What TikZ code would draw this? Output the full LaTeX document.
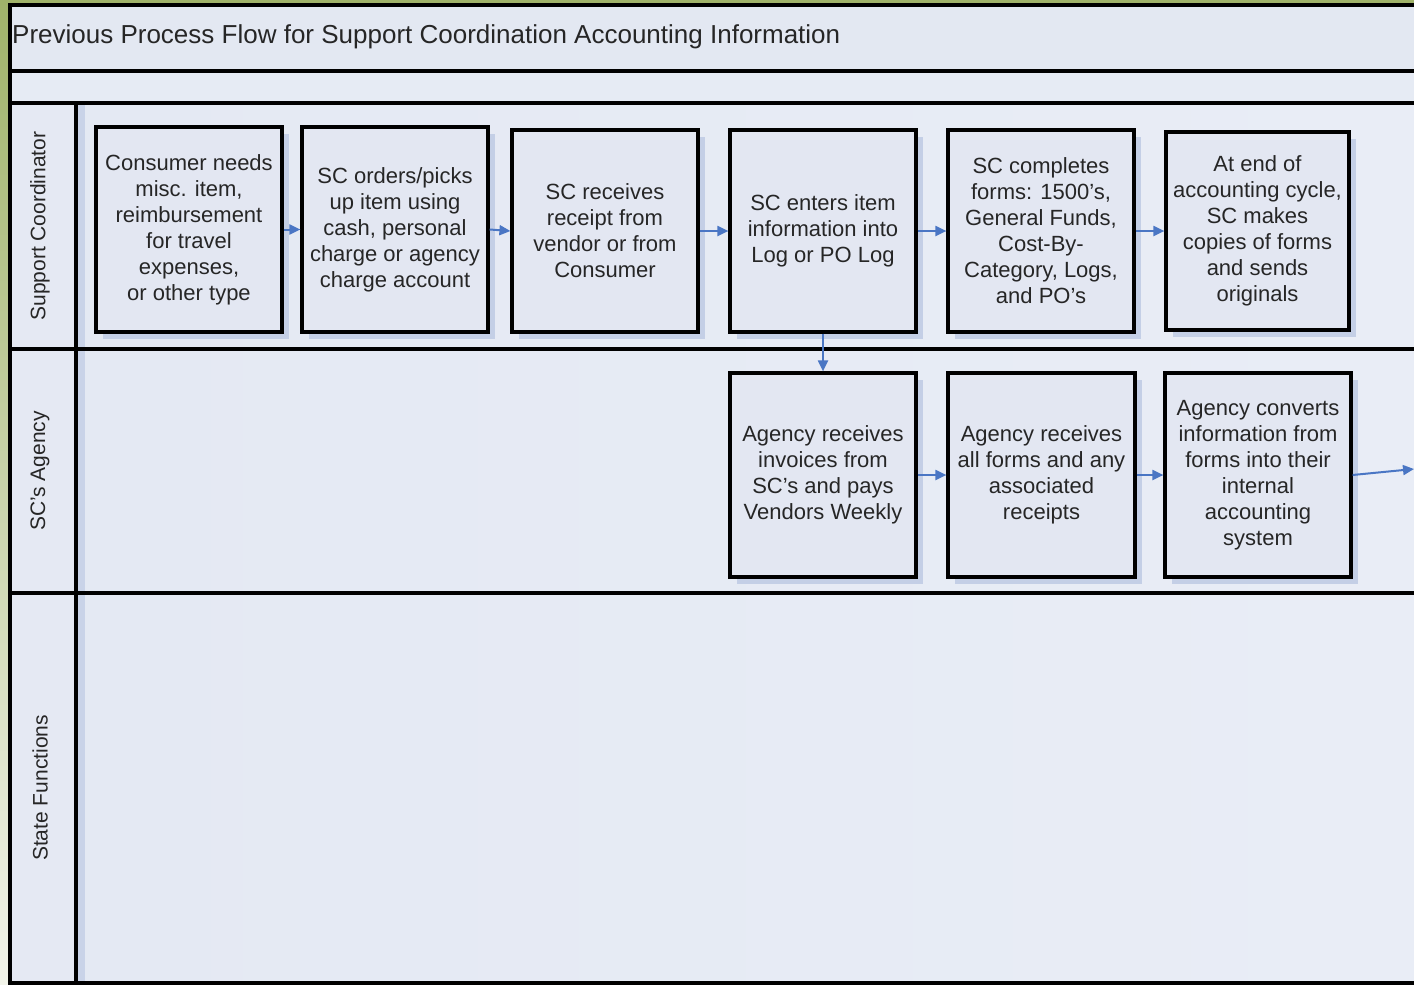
\documentclass[tikz,border=0pt]{standalone}
\usepackage{fontspec}
\setmainfont{Liberation Sans}
\usetikzlibrary{shadows,arrows.meta}
\definecolor{greenA}{HTML}{A0B36A}
\definecolor{greenB}{HTML}{F2F4EA}
\definecolor{titlefill}{HTML}{E3E8F2}
\definecolor{rowfill}{HTML}{E6EBF4}
\definecolor{labelfill}{HTML}{E5E9F3}
\definecolor{laneL}{HTML}{E4E9F3}
\definecolor{laneR}{HTML}{E9EDF6}
\definecolor{stripc}{HTML}{C9D3E8}
\definecolor{boxfill}{HTML}{E3E7F2}
\definecolor{shadowc}{HTML}{C4CFE6}
\definecolor{txt}{HTML}{262626}
\definecolor{arrowc}{HTML}{4A76C4}
\tikzset{
  frame/.style={line width=3.6pt, draw=black},
  stepbox/.style={draw=black, line width=3.2pt, fill=boxfill, text=txt,
    align=center, inner sep=0pt, font=\fontsize{22}{26}\selectfont,
    drop shadow={shadow xshift=7pt, shadow yshift=-7pt, fill=shadowc, opacity=1}},
  lanelabel/.style={rotate=90, text=txt, font=\fontsize{21}{25}\selectfont, inner sep=0pt},
  arr/.style={draw=arrowc, line width=2pt, -{Triangle[length=11pt,width=10pt]}}
}
\begin{document}
\begin{tikzpicture}[x=1pt,y=-1pt]
\useasboundingbox (0,0) rectangle (1414,985);
% green frame
\shade[top color=greenA, bottom color=greenB] (0,0) rectangle (9,985);
\fill[greenA] (0,0) rectangle (1414,5);
% backgrounds
\fill[titlefill] (9,5) rectangle (1414,71);
\fill[rowfill] (9,71) rectangle (1414,103);
\fill[labelfill] (9,103) rectangle (76,985);
\shade[left color=laneL, right color=laneR] (76,103) rectangle (1414,985);
\fill[stripc] (77,105) rectangle (85,981);
% frame lines
\draw[frame] (1414,5) -- (10,5) -- (10,983) -- (1414,983);
\draw[frame] (10,71) -- (1414,71);
\draw[frame] (10,103) -- (1414,103);
\draw[frame] (76,103) -- (76,983);
\draw[frame] (10,349) -- (1414,349);
\draw[frame] (10,593) -- (1414,593);
% title
\node[anchor=west, text=txt, font=\fontsize{26}{30}\selectfont, inner sep=0pt] (title) at (12,37) {Previous Process Flow for Support Coordination Accounting Information};
% lane labels
\node[lanelabel] (l1) at (40,226) {Support Coordinator};
\node[lanelabel] (l2) at (40,471) {SC’s Agency};
\node[lanelabel] (l3) at (40,788) {State Functions};
% boxes
\node[stepbox, minimum width=186pt, minimum height=205pt] (b1) at (189,229.5) {Consumer needs\\misc. item,\\reimbursement\\for travel\\expenses,\\or other type};
\node[stepbox, minimum width=186pt, minimum height=205pt] (b2) at (395,229.5) {SC orders/picks\\up item using\\cash, personal\\charge or agency\\charge account};
\node[stepbox, minimum width=186pt, minimum height=202pt] (b3) at (605,231) {SC receives\\receipt from\\vendor or from\\Consumer};
\node[stepbox, minimum width=186pt, minimum height=202pt] (b4) at (823,231) {SC enters item\\information into\\Log or PO Log};
\node[stepbox, minimum width=186pt, minimum height=202pt] (b5) at (1041,231) {SC completes\\forms: 1500’s,\\General Funds,\\Cost-By-\\Category, Logs,\\and PO’s};
\node[stepbox, minimum width=183pt, minimum height=198pt] (b6) at (1257.5,231) {At end of\\accounting cycle,\\SC makes\\copies of forms\\and sends\\originals};
\node[stepbox, minimum width=186pt, minimum height=204pt] (b7) at (823,475) {Agency receives\\invoices from\\SC’s and pays\\Vendors Weekly};
\node[stepbox, minimum width=187pt, minimum height=204pt] (b8) at (1041.5,475) {Agency receives\\all forms and any\\associated\\receipts};
\node[stepbox, minimum width=186pt, minimum height=204pt] (b9) at (1258,475) {Agency converts\\information from\\forms into their\\internal\\accounting\\system};
\coordinate (out) at (1414,469);
% connectors
\draw[arr] (b1.east) -- (b2.west);
\draw[arr] (b2.east) -- (b3.west);
\draw[arr] (b3.east) -- (b4.west);
\draw[arr] (b4.east) -- (b5.west);
\draw[arr] (b5.east) -- (b6.west);
\draw[arr] (b4.south) -- (b7.north);
\draw[arr] (b7.east) -- (b8.west);
\draw[arr] (b8.east) -- (b9.west);
\draw[arr] (b9.east) -- (out);
\end{tikzpicture}
\end{document}
